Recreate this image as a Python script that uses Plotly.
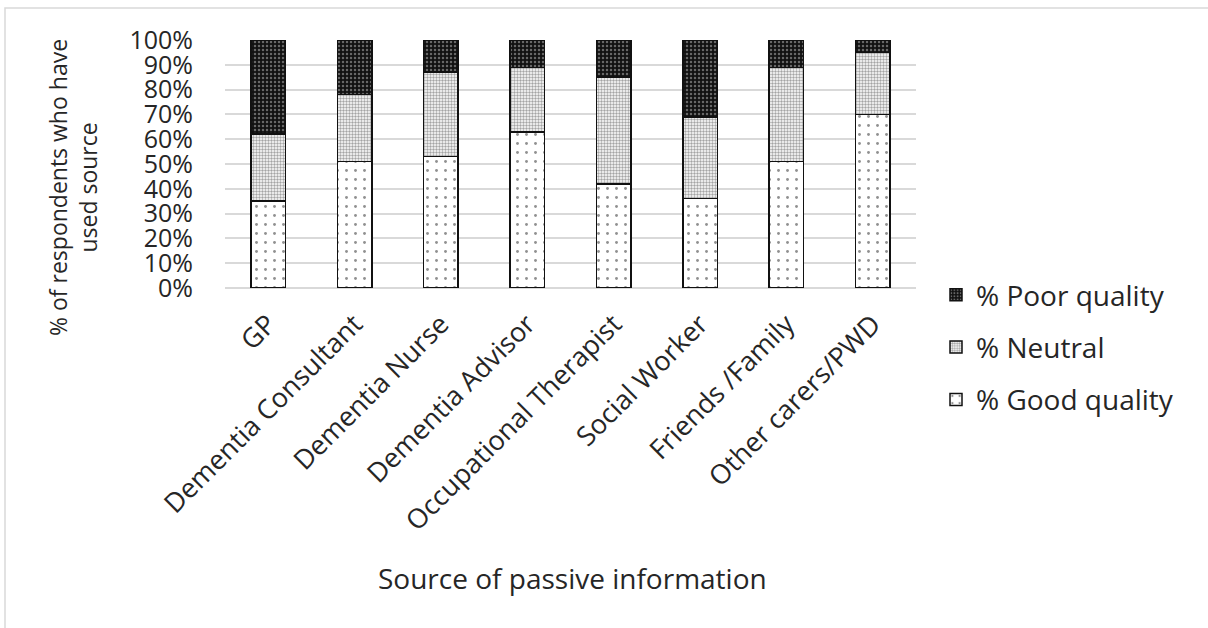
import plotly.graph_objects as go

# Sources of passive information (x categories)
sources = [
    "GP",
    "Dementia Consultant",
    "Dementia Nurse",
    "Dementia Advisor",
    "Occupational Therapist",
    "Social Worker",
    "Friends /Family",
    "Other carers/PWD",
]

# Percentage of respondents rating each source
good_quality = [35, 51, 53, 63, 42, 36, 51, 70]
neutral = [27, 27, 34, 26, 43, 33, 38, 25]
poor_quality = [38, 22, 13, 11, 15, 31, 11, 5]

y_ticks = list(range(0, 101, 10))
y_tick_labels = [f"{v}%" for v in y_ticks]

FONT = "Open Sans"
TEXT = "#262626"
W, H = 1208, 628
L, R, T, B = 225, 292, 40, 340  # plot area 225..916 x 40..288

fig = go.Figure()

series = [
    ("% Good quality", good_quality, 3,
     dict(shape=".", bgcolor="white", fgcolor="#222222", size=9, solidity=0.08)),
    ("% Neutral", neutral, 2,
     dict(shape=".", bgcolor="white", fgcolor="#4a4a4a", size=3, solidity=0.5)),
    ("% Poor quality", poor_quality, 1,
     dict(shape=".", bgcolor="#111111", fgcolor="#bbbbbb", size=4, solidity=0.3)),
]

for name, vals, rank, pat in series:
    fig.add_trace(go.Bar(
        x=sources,
        y=vals,
        name=name,
        legendgroup=name,
        legendrank=rank,
        marker=dict(color="white", pattern=pat,
                    line=dict(color="#111111", width=1.5)),
    ))

pw = W - L - R
ph = H - T - B


def px_x(px):
    return (px - L) / pw


def px_y(py):
    return (H - B - py) / ph


fig.update_layout(
    width=W,
    height=H,
    margin=dict(l=L, r=R, t=T, b=B, autoexpand=False),
    barmode="stack",
    bargap=0.6,
    paper_bgcolor="white",
    plot_bgcolor="white",
    font=dict(family=FONT, size=24, color=TEXT),
    showlegend=True,
    legend=dict(
        x=px_x(936), y=px_y(270), xanchor="left", yanchor="top",
        tracegroupgap=13,
        font=dict(family=FONT, size=28, color=TEXT),
        bgcolor="rgba(0,0,0,0)",
    ),
    xaxis=dict(
        tickangle=-45,
        tickfont=dict(family=FONT, size=27, color=TEXT),
        showgrid=False,
        showline=False,
        ticks="",
        ticklabelstandoff=14,
        title=None,
    ),
    yaxis=dict(
        range=[0, 100],
        tickvals=y_ticks,
        ticktext=y_tick_labels,
        tickfont=dict(family=FONT, size=25, color=TEXT),
        showgrid=True,
        gridcolor="#d9d9d9",
        gridwidth=1.5,
        zeroline=True,
        zerolinecolor="#d9d9d9",
        zerolinewidth=1.5,
        showline=False,
        ticks="",
        ticklabelstandoff=31,
    ),
    annotations=[
        dict(
            text="% of respondents who have<br>used source",
            x=px_x(73), y=px_y(188), xref="paper", yref="paper",
            textangle=-90, showarrow=False,
            font=dict(family=FONT, size=23, color=TEXT),
            xanchor="center", yanchor="middle",
        ),
        dict(
            text="Source of passive information",
            x=px_x(572), y=px_y(578), xref="paper", yref="paper",
            showarrow=False,
            font=dict(family=FONT, size=28, color=TEXT),
            xanchor="center", yanchor="middle",
        ),
    ],
    shapes=[
        dict(type="rect", xref="paper", yref="paper",
             x0=px_x(5), x1=px_x(1220), y0=px_y(640), y1=px_y(8),
             line=dict(color="#d9d9d9", width=1.5), fillcolor="rgba(0,0,0,0)",
             layer="below"),
    ],
)

fig.write_html("out.html")
